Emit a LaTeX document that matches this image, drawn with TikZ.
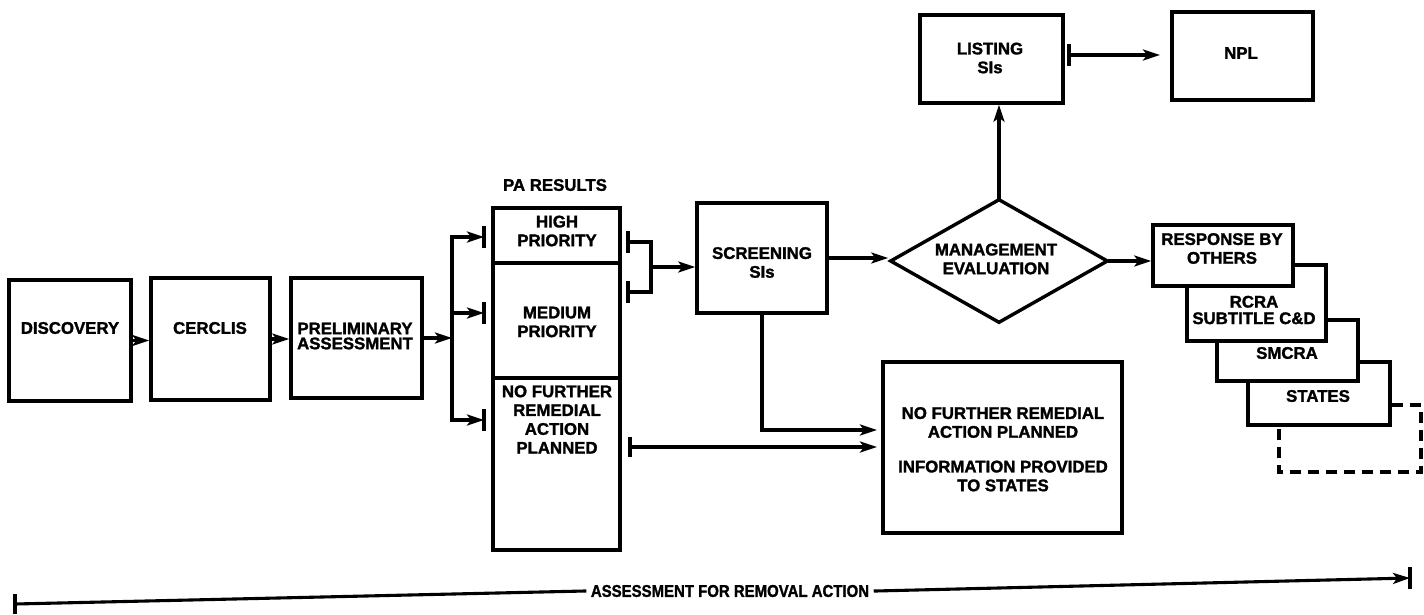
\documentclass[tikz,border=0pt]{standalone}
\usepackage{fontspec}
\setmainfont{Liberation Sans}[BoldFeatures={FakeBold=1.6}]
\usepackage{graphicx}
\usetikzlibrary{arrows.meta,shapes.geometric}
\begin{document}
\begin{tikzpicture}[x=1pt,y=-1pt,
  box/.style={draw, line width=3.4pt, inner sep=0pt, fill=white, rectangle},
  lbl/.style={font=\fontsize{16.8}{18.8}\selectfont\bfseries, align=center, inner sep=0pt},
  conn/.style={line width=3.1pt, line cap=rect},
  arr/.style={conn, -{Stealth[length=17pt,width=11pt,inset=4pt]}},
  barl/.style={line width=3.4pt}
]
\useasboundingbox[fill=white] (0,0) rectangle (1424,614);

% left chain
\node[box, minimum width=122pt, minimum height=121pt] (disc) at (70,340.5) {};
\node[box, minimum width=119pt, minimum height=122pt] (cerc) at (210.5,339) {};
\node[box, minimum width=131pt, minimum height=120pt] (prel) at (356.5,338) {};
\node[lbl] at (70,328) {DISCOVERY};
\node[lbl] at (210,328) {CERCLIS};
\node[lbl, font=\fontsize{16.8}{15}\selectfont\bfseries] at (355,336) {PRELIMINARY\\ASSESSMENT};

% PA results column
\node[lbl] (pares) at (555,185) {PA RESULTS};
\node[box, minimum width=127pt, minimum height=55pt] (high) at (556.5,235.5) {};
\node[box, minimum width=127pt, minimum height=115pt] (med) at (556.5,320.5) {};
\node[box, minimum width=127pt, minimum height=172pt] (nfr) at (556.5,464) {};
\node[lbl] at (557,231) {HIGH\\PRIORITY};
\node[lbl] at (557,322) {MEDIUM\\PRIORITY};
\node[lbl] at (557,419.5) {NO FURTHER\\REMEDIAL\\ACTION\\PLANNED};

% screening
\node[box, minimum width=130pt, minimum height=110pt] (scr) at (762,258) {};
\node[lbl] at (762,262.5) {SCREENING\\SIs};

% listing / npl
\node[box, minimum width=143pt, minimum height=88pt] (list) at (991.5,59) {};
\node[box, minimum width=141pt, minimum height=88pt] (npl) at (1242.5,56) {};
\node[lbl] at (990,58) {LISTING\\SIs};
\node[lbl] at (1241,53) {NPL};

% diamond
\node[draw, line width=3.4pt, diamond, inner sep=0pt, minimum width=218pt, minimum height=124pt] (dia) at (999,261) {};
\node[lbl] at (996,259) {MANAGEMENT\\EVALUATION};

% NFRAP box
\node[box, minimum width=239pt, minimum height=171pt] (nfrap) at (1002.5,447.5) {};
\node[lbl] at (1003,422.5) {NO FURTHER REMEDIAL\\ACTION PLANNED};
\node[lbl] at (1003,476) {INFORMATION PROVIDED\\TO STATES};

% stacked responses
\coordinate (d1) at (1421,405);
\coordinate (d2) at (1279,472);
\node[box, minimum width=142pt, minimum height=63pt] (states) at (1319,393.5) {};
\draw[conn, line cap=butt, dash pattern=on 11pt off 7pt] (states.east |- d1) -- (d1) -- (d1 |- d2) -- (d2) -- (d2 |- states.south);
\node[box, minimum width=141pt, minimum height=61pt] (smcra) at (1287.5,350.5) {};
\node[box, minimum width=139pt, minimum height=76pt] (rcra) at (1256.5,303) {};
\node[box, minimum width=140pt, minimum height=61pt] (resp) at (1223,255.5) {};
\node[lbl] at (1222,248.5) {RESPONSE BY\\OTHERS};
\node[lbl, font=\fontsize{16.8}{16.5}\selectfont\bfseries] at (1254,310) {RCRA\\SUBTITLE C\&D};
\node[lbl] at (1287,353) {SMCRA};
\node[lbl] at (1318,396) {STATES};

% connectors left chain
\draw[arr] (disc.east) -- (disc.east -| cerc.west);
\draw[arr] (cerc.east) -- (cerc.east -| prel.west);

% bus to PA results
\coordinate (busT) at (452,237);
\coordinate (busB) at (452,420);
\coordinate (bT) at (484,237);
\coordinate (bM) at (484,313);
\coordinate (bB) at (484,420);
\draw[arr] (prel.east) -- (prel.east -| busT);
\draw[arr] (busB) -- (busT) -- (bT);
\draw[arr] (bM -| busT) -- (bM);
\draw[arr] (busT |- bB) -- (bB);
\foreach \c in {bT,bM,bB}{\draw[barl] ([yshift=-11pt]\c) -- ([yshift=11pt]\c);}

% bracket to screening
\coordinate (rb1) at (628,242);
\coordinate (rb2) at (628,292);
\coordinate (rj) at (651,267);
\draw[conn] (rb1) -| (rj |- rb2) -- (rb2);
\draw[barl] ([yshift=-11pt]rb1) -- ([yshift=11pt]rb1);
\draw[barl] ([yshift=-11pt]rb2) -- ([yshift=11pt]rb2);
\draw[arr] (rj) -- (rj -| scr.west);

% screening to diamond
\draw[arr] (scr.east) -- (scr.east -| dia.west);
% diamond up to listing
\draw[arr] (dia.north) -- (dia.north |- list.south);
% listing to NPL
\coordinate (lb) at (1069,55);
\coordinate (le) at (1160,55);
\draw[barl] ([yshift=-11pt]lb) -- ([yshift=11pt]lb);
\draw[arr] (lb) -- (le);
% diamond to response
\draw[arr] (dia.east) -- (dia.east -| resp.west);

% to NFRAP box
\coordinate (n1) at (877,430);
\coordinate (nb) at (630,447);
\coordinate (n2) at (877,447);
\draw[arr] (scr.south) |- (n1);
\draw[barl] ([yshift=-10pt]nb) -- ([yshift=10pt]nb);
\draw[arr] (nb) -- (n2);

% bottom assessment line
\coordinate (aL) at (15,604);
\coordinate (aR) at (1410,578);
\node[lbl, font=\fontsize{17}{17}\selectfont\bfseries] (afr) at (730,591) {\scalebox{0.88}[1]{ASSESSMENT FOR REMOVAL ACTION}};
\draw[conn] (aL) -- ([xshift=-6pt]afr.west);
\draw[arr] ([xshift=6pt]afr.east) -- (aR);
\draw[barl] ([yshift=-10pt]aL) -- ([yshift=10pt]aL);
\draw[barl] ([yshift=-11pt]aR) -- ([yshift=11pt]aR);
\end{tikzpicture}
\end{document}
